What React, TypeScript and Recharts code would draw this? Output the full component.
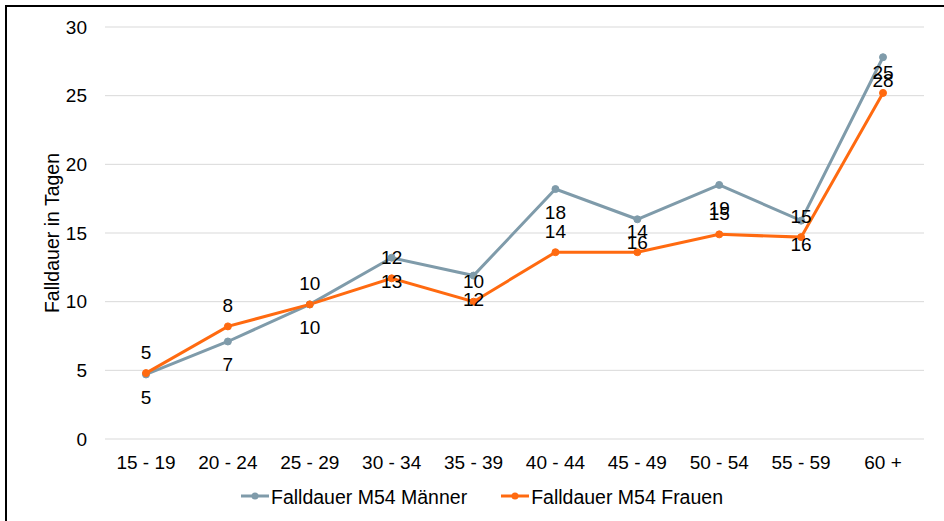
import React from 'react';
import { LineChart, Line, XAxis, YAxis, CartesianGrid, Legend, LabelList, Label } from 'recharts';

const categories = ['15 - 19', '20 - 24', '25 - 29', '30 - 34', '35 - 39', '40 - 44', '45 - 49', '50 - 54', '55 - 59', '60 +'];
const maennerValues = [4.7, 7.1, 9.8, 13.2, 11.9, 18.2, 16.0, 18.5, 15.9, 27.8];
const frauenValues = [4.8, 8.2, 9.8, 11.7, 10.0, 13.6, 13.6, 14.9, 14.7, 25.2];
const yTicks = [0, 5, 10, 15, 20, 25, 30];
const seriesNames = ['Falldauer M54 Männer', 'Falldauer M54 Frauen'];
const axisTitle = 'Falldauer in Tagen';

const FONT = '"Liberation Sans", Arial, sans-serif';
const GRAY = '#7F9BAA';
const ORANGE = '#FF6A10';
const colors = [GRAY, ORANGE];

const data = categories.map((c, i) => ({ cat: c, m: maennerValues[i], f: frauenValues[i] }));

const makeLabel = (dy: number) => (props: any) => {
  const vb = props.viewBox || {};
  const x = props.x ?? vb.x;
  const y = props.y ?? vb.y;
  if (x == null || y == null || props.value == null) return null;
  return (
    <text x={x} y={y + dy} textAnchor="middle" fontSize={19} fontFamily={FONT} fill="#000">
      {Math.round(Number(props.value))}
    </text>
  );
};

const YTitle = (props: any) => {
  const vb = props.viewBox || {};
  const cx = (vb.x ?? 5) + 47;
  const cy = (vb.y ?? 27) + (vb.height ?? 412) / 2;
  return (
    <text
      x={cx}
      y={cy}
      transform={`rotate(-90, ${cx}, ${cy})`}
      textAnchor="middle"
      dominantBaseline="central"
      fontSize={19.5}
      fontFamily={FONT}
      fill="#000"
    >
      {axisTitle}
    </text>
  );
};

const LegendContent = () => {
  const items = seriesNames.map((n, i) => ({ value: n, color: colors[i] }));
  return (
    <div
      style={{
        display: 'flex',
        justifyContent: 'center',
        alignItems: 'center',
        height: 24,
        paddingLeft: 20,
        boxSizing: 'border-box',
        fontFamily: FONT,
        fontSize: 19.5,
        color: '#000',
      }}
    >
      {items.map((it, i) => (
        <div key={it.value} style={{ display: 'flex', alignItems: 'center', marginLeft: i ? 34 : 0 }}>
          <svg width={28} height={10} style={{ marginTop: -3 }}>
            <line x1={0} y1={5} x2={28} y2={5} stroke={it.color} strokeWidth={3} />
            <circle cx={14} cy={5} r={3.5} fill={it.color} />
          </svg>
          <span style={{ marginLeft: 2, whiteSpace: 'nowrap' }}>{it.value}</span>
        </div>
      ))}
    </div>
  );
};

export default function App() {
  return (
    <div style={{ position: 'fixed', left: 0, top: 0, width: 944, height: 521, overflow: 'hidden', background: '#fff' }}>
      <div
        style={{
          position: 'absolute',
          left: 5,
          top: 5,
          width: 1000,
          height: 1000,
          borderLeft: '2px solid #000',
          borderTop: '2px solid #000',
        }}
      />
      <div style={{ position: 'absolute', left: 0, top: 0 }}>
        <LineChart width={944} height={521} data={data} margin={{ top: 27, right: 20, left: 5, bottom: 12 }}>
          <CartesianGrid vertical={false} stroke="#D9D9D9" strokeWidth={1} />
          <XAxis
            dataKey="cat"
            height={46}
            axisLine={false}
            tickLine={false}
            tickSize={0}
            tickMargin={17}
            padding={{ left: 41, right: 41 }}
            interval={0}
            tick={{ fontSize: 19, fontFamily: FONT, fill: '#000' }}
          />
          <YAxis
            width={100}
            domain={[0, 30]}
            ticks={yTicks}
            axisLine={false}
            tickLine={false}
            tickSize={0}
            tickMargin={18}
            interval={0}
            tick={{ fontSize: 19, fontFamily: FONT, fill: '#000' }}
          >
            <Label content={YTitle} />
          </YAxis>
          <Legend
            verticalAlign="bottom"
            height={24}
            content={LegendContent}
            wrapperStyle={{ left: 0, width: 944 }}
          />
          <Line
            name={seriesNames[0]}
            dataKey="m"
            stroke={GRAY}
            strokeWidth={3}
            dot={{ r: 3.5, fill: GRAY, stroke: GRAY, strokeWidth: 1 }}
            activeDot={false}
            isAnimationActive={false}
          >
            <LabelList dataKey="m" content={makeLabel(30)} />
          </Line>
          <Line
            name={seriesNames[1]}
            dataKey="f"
            stroke={ORANGE}
            strokeWidth={3}
            dot={{ r: 3.5, fill: ORANGE, stroke: ORANGE, strokeWidth: 1 }}
            activeDot={false}
            isAnimationActive={false}
          >
            <LabelList dataKey="f" content={makeLabel(-14)} />
          </Line>
        </LineChart>
      </div>
    </div>
  );
}
